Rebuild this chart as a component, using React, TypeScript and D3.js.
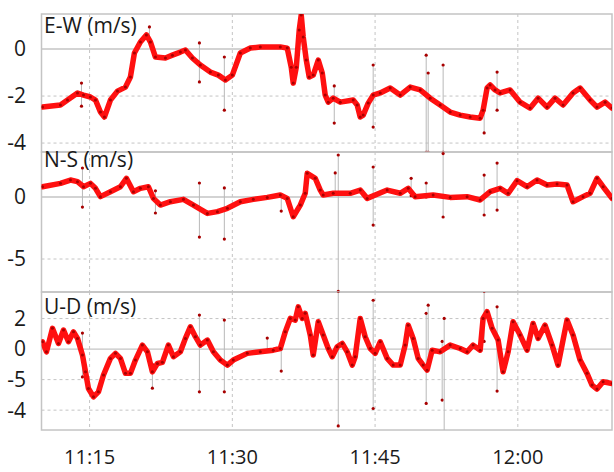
import React from "react";
import * as d3 from "d3";

const WIDTH = 614;
const HEIGHT = 472;

// time is minutes after 11:00
const timeTicks = [15, 30, 45, 60];
const timeLabels = ["11:15", "11:30", "11:45", "12:00"];

const ewTicks = [0, -2, -4];
const ewTickLabels = ["0", "-2", "-4"];
const nsTicks = [0, -5];
const nsTickLabels = ["0", "-5"];
const udTicks = [2, 0, -2, -4];
const udTickLabels = ["2", "0", "-5", "-4"];

// [minute, value]
const ewData = [
  [10.05, -2.47], [11.94, -2.38], [12.68, -2.17], [13.73, -1.87], [14.36, -1.96], [15.09, -2.04],
  [15.62, -2.17], [16.14, -2.68], [16.56, -2.89], [17.19, -2.17], [17.93, -1.79], [18.77, -1.62],
  [19.29, -1.19], [19.71, -0.17], [20.34, 0.3], [20.97, 0.6], [21.39, 0.3], [21.92, -0.34],
  [22.97, -0.38], [23.7, -0.26], [24.54, -0.13], [25.07, -0.04], [25.8, -0.38], [26.64, -0.68],
  [27.69, -0.98], [28.53, -1.11], [29.27, -1.32], [30.0, -1.11], [30.84, -0.17], [31.89, 0.04],
  [32.94, 0.09], [35.04, 0.09], [35.77, 0.04], [36.19, -0.77], [36.4, -1.45], [36.72, -0.77],
  [37.03, 0.81], [37.24, 1.45], [37.45, 0.51], [37.77, -0.47], [38.08, -1.19], [38.5, -1.11],
  [39.03, -0.47], [39.45, -1.02], [39.76, -1.96], [40.08, -2.26], [40.6, -2.09], [41.34, -2.26],
  [42.7, -2.17], [43.12, -2.38], [43.44, -2.89], [43.75, -2.81], [44.28, -2.3], [44.8, -1.96],
  [45.54, -1.87], [46.59, -1.66], [47.64, -1.96], [48.69, -1.62], [49.74, -1.74], [50.79, -2.09],
  [51.84, -2.38], [52.89, -2.68], [53.94, -2.81], [54.99, -2.89], [56.04, -2.94], [56.35, -2.6],
  [56.77, -1.66], [57.09, -1.53], [57.61, -1.74], [58.14, -1.87], [59.19, -1.74], [60.24, -2.26],
  [61.29, -2.51], [62.13, -2.09], [63.07, -2.47], [63.91, -2.09], [64.75, -2.38], [65.8, -1.87],
  [66.54, -1.66], [67.59, -2.17], [68.32, -2.47], [69.17, -2.26], [69.9, -2.51],
];
// [minute, top, bottom]
const ewSpikes = [
  [14.15, -1.45, -2.43], [21.29, 0.94, 0.3], [26.54, 0.26, -1.4], [29.16, -0.34, -2.6],
  [40.71, -1.57, -3.15], [44.8, -0.68, -3.32], [50.37, -0.26, -4.4], [50.58, -1.02, -4.4],
  [52.15, -0.68, -4.4], [56.46, -2.6, -3.57], [57.82, -0.98, -2.6],
];

const nsData = [
  [10.05, 0.83], [11.94, 1.1], [12.99, 1.37], [13.73, 1.24], [14.36, 0.83], [15.09, 1.1],
  [15.62, 0.7], [16.14, 0.03], [17.19, 0.43], [18.24, 0.83], [18.87, 1.51], [19.61, 0.43],
  [20.34, 0.7], [21.18, 0.83], [21.71, -0.11], [22.44, -0.65], [23.49, -0.38], [24.86, -0.19],
  [25.91, -0.65], [27.38, -1.32], [28.43, -1.18], [29.48, -0.91], [30.84, -0.38], [32.2, -0.19],
  [33.67, -0.03], [35.04, 0.16], [35.77, -0.11], [36.4, -1.59], [37.14, -0.65], [37.66, 0.3],
  [37.87, 1.91], [38.71, 1.51], [39.24, 0.56], [39.55, 0.16], [40.6, 0.3], [42.39, 0.3],
  [43.44, 0.56], [44.17, -0.11], [46.27, 0.56], [47.64, 0.3], [48.48, 0.7], [49.21, 0.03],
  [51.1, 0.16], [52.89, -0.03], [54.67, 0.03], [56.04, -0.24], [57.09, 0.43], [58.14, 0.7],
  [58.98, 0.3], [59.92, 1.32], [60.97, 0.83], [62.02, 1.37], [63.07, 0.97], [64.12, 1.05],
  [65.17, 0.97], [65.8, -0.38], [66.85, 0.03], [67.59, 0.3], [68.32, 1.51], [68.96, 0.83],
  [69.9, -0.11],
];
const nsSpikes = [
  [14.25, 2.34, -0.81], [21.92, 0.5, -1.29], [26.54, 1.13, -3.23], [29.16, 0.73, -3.39],
  [35.14, 0.2, -1.13], [40.81, 1.94, 0.3], [41.13, 3.39, -7.6], [44.8, 2.42, -2.26],
  [48.79, 1.51, 0.1], [50.37, 1.13, 0.0], [52.15, 3.5, -1.61], [56.46, 1.77, -1.45],
  [57.82, 2.74, -1.05],
];

const udData = [
  [10.05, 0.48], [10.47, -0.18], [11.1, 1.36], [11.73, 0.37], [12.26, 1.25], [12.78, 0.48],
  [13.31, 1.13], [13.73, 0.7], [14.25, -0.39], [14.57, -1.49], [14.88, -2.58], [15.41, -3.13],
  [15.93, -2.8], [16.46, -1.7], [17.19, -0.61], [17.72, -0.28], [18.24, -0.61], [18.77, -1.59],
  [19.29, -1.59], [19.82, -0.72], [20.55, 0.26], [21.08, -0.18], [21.6, -1.49], [22.13, -0.94],
  [22.65, -0.87], [23.28, 0.26], [23.81, -0.5], [24.54, -0.18], [25.07, 0.7], [25.59, 1.46],
  [26.12, 0.81], [26.64, 0.26], [27.38, 0.59], [28.01, -0.18], [28.74, -0.72], [29.48, -1.05],
  [30.1, -0.72], [31.57, -0.28], [32.94, -0.18], [34.3, -0.07], [35.04, 0.04], [35.56, 1.13],
  [36.09, 2.01], [36.61, 1.9], [36.93, 2.77], [37.35, 2.01], [37.66, 2.34], [38.19, 0.92],
  [38.5, -0.39], [39.03, 1.79], [39.55, 0.92], [40.08, 0.04], [40.5, -0.5], [41.02, 0.15],
  [41.55, 0.37], [42.07, -0.18], [42.6, -1.05], [42.91, -0.5], [43.44, 2.01], [43.96, 0.81],
  [44.49, 0.04], [45.01, -0.28], [45.54, 0.48], [46.27, -0.61], [46.9, -1.05], [47.64, -1.05],
  [48.16, 0.26], [48.48, 1.57], [49.0, 0.7], [49.53, -0.61], [50.05, -1.05], [50.47, -1.38],
  [51.0, -0.07], [51.84, -0.18], [52.89, 0.26], [53.94, 0.04], [54.67, -0.18], [55.3, 0.26],
  [56.04, -0.07], [56.35, 2.01], [56.77, 2.45], [57.3, 1.36], [57.93, 0.59], [58.45, -1.49],
  [58.98, -0.18], [59.5, 1.79], [60.24, 0.92], [60.97, -0.07], [61.6, 1.68], [62.13, 0.7],
  [62.86, 1.57], [63.6, 0.26], [64.23, -1.05], [65.17, 1.9], [65.8, 0.92], [66.54, -0.72],
  [67.27, -1.59], [67.8, -2.36], [68.32, -2.62], [68.96, -2.14], [69.9, -2.25],
];
const udSpikes = [
  [14.25, 1.05, -1.82], [21.6, -1.0, -2.56], [26.54, 2.23, -2.8], [29.16, 1.9, -2.8],
  [33.67, 0.72, -0.1], [35.14, 0.0, -1.44], [41.13, 3.8, -5.03], [44.8, 3.2, -3.89],
  [50.37, 2.34, -3.56], [50.58, 2.88, -1.0], [52.05, 0.5, -3.34], [52.26, 2.01, -5.4],
  [56.46, 3.8, 0.5], [57.82, 2.77, -2.75],
];

const panels = [
  { id: "ew", title: "E-W (m/s)", data: ewData, spikes: ewSpikes, ticks: ewTicks, labels: ewTickLabels, domain: [-4.38, 1.49], top: 14, bottom: 152, titleY: 33 },
  { id: "ns", title: "N-S (m/s)", data: nsData, spikes: nsSpikes, ticks: nsTicks, labels: nsTickLabels, domain: [-7.66, 3.63], top: 152, bottom: 292, titleY: 167 },
  { id: "ud", title: "U-D (m/s)", data: udData, spikes: udSpikes, ticks: udTicks, labels: udTickLabels, domain: [-5.3, 3.74], top: 292, bottom: 430, titleY: 314 },
];

const LEFT = 41.5;
const RIGHT = 612;
const FONT = "'Open Sans', 'Noto Sans', sans-serif";
const GRID = "#c4c4c4";
const TRACE = "#ff1010";
const MARK = "#a80000";

const App = () => {
  const xScale = d3.scaleLinear().domain([10, 70]).range([LEFT + 0.5, RIGHT + 1]);

  return (
    <svg width={WIDTH} height={HEIGHT} style={{ position: "absolute", left: 0, top: 0, background: "#fff" }}>
      <defs>
        {panels.map((p) => (
          <clipPath id={`clip-${p.id}`} key={p.id}>
            <rect x={LEFT} y={p.top} width={RIGHT - LEFT} height={p.bottom - p.top} />
          </clipPath>
        ))}
      </defs>
      {panels.map((p) => {
        const yScale = d3.scaleLinear().domain(p.domain).range([p.bottom, p.top]);
        const line = d3
          .line<number[]>()
          .x((d) => xScale(d[0]))
          .y((d) => yScale(d[1]));
        return (
          <g key={p.id}>
            {/* grid */}
            {timeTicks.map((t) => (
              <line key={t} x1={xScale(t)} x2={xScale(t)} y1={p.top} y2={p.bottom} stroke={GRID} strokeDasharray="3,3" />
            ))}
            {p.ticks.map((t) => (
              <line
                key={t}
                x1={LEFT}
                x2={RIGHT}
                y1={yScale(t)}
                y2={yScale(t)}
                stroke={GRID}
                strokeWidth={t === 0 ? 1.4 : 1}
                strokeDasharray={t === 0 ? undefined : "3,3"}
              />
            ))}
            <rect x={LEFT} y={p.top} width={RIGHT - LEFT} height={p.bottom - p.top} fill="none" stroke={GRID} strokeWidth={1.5} />
            {/* y tick labels */}
            {p.ticks.map((t, i) => (
              <text key={t} x={26} y={yScale(t)} dy="0.35em" textAnchor="end" fontFamily={FONT} fontSize={21} fill="#1a1a1a">
                {p.labels[i]}
              </text>
            ))}
            <g clipPath={`url(#clip-${p.id})`}>
              {p.spikes.map((s, i) => (
                <g key={i}>
                  <line x1={xScale(s[0])} x2={xScale(s[0])} y1={yScale(s[1])} y2={yScale(s[2])} stroke="#b8b8b8" strokeWidth={1} />
                  <circle cx={xScale(s[0])} cy={yScale(s[1])} r={1.6} fill={MARK} />
                  <circle cx={xScale(s[0])} cy={yScale(s[2])} r={1.6} fill={MARK} />
                </g>
              ))}
              <path d={line(p.data) || ""} fill="none" stroke={TRACE} strokeWidth={5.5} strokeLinejoin="round" strokeLinecap="round" />
              {p.data.map((d, i) => (
                <circle key={i} cx={xScale(d[0])} cy={yScale(d[1])} r={1.5} fill={MARK} />
              ))}
            </g>
            <text x={44} y={p.titleY} fontFamily={FONT} fontSize={21} fill="#1a1a1a">
              {p.title}
            </text>
          </g>
        );
      })}
      {/* x tick labels */}
      {timeTicks.map((t, i) => (
        <text key={t} x={xScale(t)} y={464} textAnchor="middle" fontFamily={FONT} fontSize={20} fill="#1a1a1a">
          {timeLabels[i]}
        </text>
      ))}
    </svg>
  );
};

export default App;
